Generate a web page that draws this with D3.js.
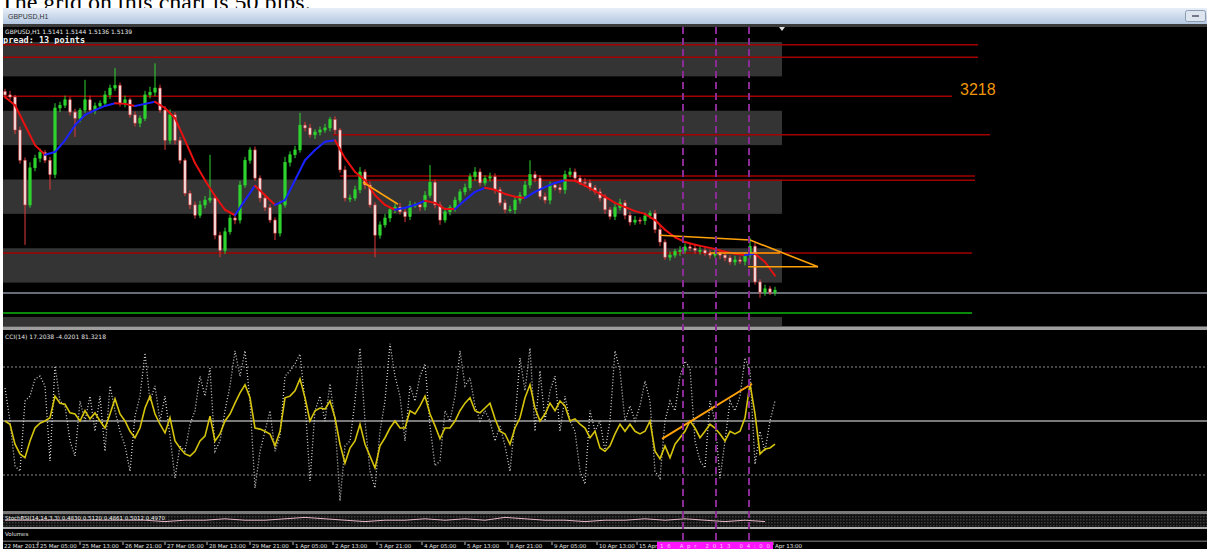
<!DOCTYPE html>
<html><head><meta charset="utf-8">
<script src="https://cdn.jsdelivr.net/npm/d3@7"></script>
<style>html,body{margin:0;padding:0;background:#fff;overflow:hidden}</style>
</head><body>
<svg id="c" width="1210" height="549"></svg>
<script>
// ---------------- DATA ----------------
const caption = "The grid on this chart is 50 pips.";
const windowTitle = "GBPUSD,H1";
const headerText = "GBPUSD,H1  1.5141 1.5144 1.5136 1.5139";
const spreadText = "Spread: 13 points";
const oscText = "CCI(14) 17.2038 -4.0201 81.3218";
const miniText = "StochRSI(14,14,3,3) 0.4830 0.5120 0.4861 0.5012 0.4970";
const volText = "Volumes";
const pipBase = 1.5000;          // prices stored as pips above this
const gridStep = 50;             // pips per grid band
const bandLows = [450, 350, 250, 150, 50];
const firstOpen = 428;
const closePips = [
423,420,372,328,263,317,331,339,328,307,
404,408,416,398,389,401,416,401,407,411,
423,433,437,411,416,394,382,389,423,427,
433,401,357,394,357,328,280,263,248,263,
270,273,219,197,224,244,241,292,328,343,
302,273,259,241,222,263,325,336,343,379,
375,365,369,372,375,387,372,314,273,273,
285,311,292,263,219,234,244,256,260,253,
246,263,263,260,277,296,263,241,253,259,
270,282,288,304,311,295,302,304,285,266,
256,256,270,277,292,307,302,275,270,292,
288,285,307,311,302,296,295,288,282,273,
256,246,259,266,248,238,241,240,247,251,
227,209,187,190,195,197,202,200,197,197,
193,190,193,190,186,180,183,181,190,203,
151,136,141,136,139];
const wickUp = [
4,6,3,5,4,8,5,6,4,5, 7,5,6,4,5,3,29,6,5,4, 6,5,25,4,6,3,5,4,6,8,
36,5,6,8,4,5,3,4,5,6, 6,63,4,5,6,5,7,6,5,4, 5,4,6,5,4,6,8,5,6,18,
5,6,4,5,6,4,5,3,6,5, 6,7,4,5,4,5,6,4,5,6, 5,6,4,5,6,25,4,5,6,4,
5,4,6,5,7,5,4,6,5,4, 5,6,4,5,6,21,5,4,6,5, 4,5,6,6,5,4,6,5,4,5,
6,4,5,6,4,5,6,4,5,4, 5,6,4,5,4,6,5,4,5,6, 4,5,6,4,5,4,6,5,4,12,
5,4,6,4,5];
const wickDown = [
5,4,6,5,58,4,5,6,4,22, 5,6,4,5,27,6,4,5,6,4, 5,6,4,5,6,4,5,6,4,5,
6,4,14,5,6,5,4,6,5,4, 5,4,6,10,5,4,6,5,4,5, 4,6,5,4,10,5,4,6,5,4,
5,4,6,5,4,5,6,4,5,6, 4,5,6,4,32,5,4,6,5,4, 8,5,4,6,5,4,5,7,4,5,
6,4,5,4,6,5,4,5,6,4, 5,4,6,5,4,5,6,4,5,6, 4,5,6,4,5,4,6,5,4,5,
6,4,5,4,6,5,4,5,6,4, 5,6,4,5,4,6,5,4,5,6, 4,5,4,6,5,4,5,4,6,5,
4,8,5,4,5];
// moving average, one value every 2 bars
const maPips = [
420,408,379,350,336,340,357,379,394,401,
407,411,410,407,410,413,404,389,357,324,
299,276,256,248,270,291,277,263,270,299,
328,343,355,357,331,311,299,277,263,256,
259,263,269,266,257,257,270,282,288,285,
279,275,273,282,289,295,299,298,291,283,
275,266,260,254,250,241,227,216,209,205,
202,199,195,192,190,192,180,160];
// support / resistance levels (pips), with bar index start / end
const levelPips  = [496, 478, 421, 365, 305, 299, 193];
const levelStart = [-0.4, -0.4, -0.4, 65.6, 67, 71.6, -0.4];
const levelEnd   = [194.6, 194.6, 189.4, 197, 194, 194, 193.4];
const levelLabel = "3218";
const grayLinePips = 135;
const greenLinePips = 106;
const greenLineEnd = 193.4;
// orange drawn trendlines [idx1, pips1, idx2, pips2]
const trendLines = [
  [71.6, 296, 78.6, 264],
  [131, 219, 149, 212],
  [149, 212, 162.6, 173],
  [162.6, 173, 148.6, 173],
  [141, 193, 155, 193]
];
const vLines = [135.6, 142.2, 148.8];
// oscillator
const oscLevels = [100, -100];
const yellowOsc = [
0,-6,-43,-61,-68,-37,-13,-4,0,6,
46,33,31,15,13,0,19,4,15,0,
-13,13,41,13,0,-19,-31,-13,24,46,
13,-6,-22,6,-37,-50,-61,-65,-56,-37,
-28,9,-37,-24,0,13,33,52,67,43,
-13,-15,-19,-24,-46,-19,43,46,56,78,
43,0,19,24,22,37,6,-43,-78,-50,
-37,-6,-43,-65,-87,-46,-31,-13,0,-13,
-13,19,13,28,46,13,-9,-33,-13,-13,
0,19,33,43,19,15,24,33,4,-19,
-24,-43,-13,6,43,67,24,0,13,33,
19,37,28,0,4,-6,-13,-31,-19,-50,
-56,-46,-24,-6,-19,-6,-19,-24,-19,0,
-56,-70,-46,-68,-43,-31,-19,0,-13,-31,
-19,-6,-13,-24,-37,-19,-24,-19,6,69,
13,-61,-52,-50,-43];
const whiteOsc = [
61,0,-83,-93,37,46,78,83,65,-74,
102,37,28,-37,-65,37,0,46,-19,46,
-56,65,19,-19,-46,-93,9,46,126,37,
65,0,46,-28,-106,-46,-56,-6,19,83,
46,98,-56,-37,19,65,130,83,130,37,
-124,-56,-19,19,-56,-28,83,93,106,124,
37,-111,19,46,0,69,0,-148,-46,-37,
37,135,0,-93,-124,-19,37,143,83,46,
-37,65,37,83,106,-9,-83,-74,19,0,
46,130,65,80,28,0,19,0,-37,-9,
-46,-93,0,117,56,135,-19,93,0,56,
83,-19,46,0,-19,-93,-117,19,-19,0,
-56,0,130,93,0,28,0,28,74,37,
-93,-106,0,37,19,83,111,98,-37,-74,
-87,37,0,-106,-37,37,19,46,117,93,
-80,-19,-56,0,37];
const oscTrend = [131.4, -33, 149.4, 69];
// mini indicator, one value every 4 bars
const miniVals = [2,2,2,2,2,2,2,2,1,2,2,3,2,2,3,4,3,2,1,2,2,3,2,3,2,4,3,2,2,1,2,2,3,2,3,2,1,2,1];
// time axis
const timeTicks = [6.6,15,23.6,32,40.4,49,57.6,65.6,74.4,83.4,92,100.6,109.4,118.4,126.4,153.6];
const timeLabels = ["25 Mar 05:00","25 Mar 13:00","26 Mar 21:00","27 Mar 05:00","28 Mar 13:00","29 Mar 21:00",
  "1 Apr 05:00","2 Apr 13:00","3 Apr 21:00","4 Apr 05:00","5 Apr 13:00","8 Apr 21:00","9 Apr 05:00",
  "10 Apr 13:00","15 Apr","Apr 13:00"];
const firstTimeLabel = "22 Mar 2013";
const crossLabel = "16 Apr 2013 04:00";

// ---------------- DRAW ----------------
const svg = d3.select("#c");
const defs = svg.append("defs");

// caption (cut by the window title bar)
defs.append("clipPath").attr("id", "ccap").append("rect").attr("x", 0).attr("y", 0).attr("width", 1210).attr("height", 8);
svg.append("text").attr("x", 0).attr("y", 10).attr("clip-path", "url(#ccap)")
  .attr("font-family", "Liberation Serif, 'Times New Roman', serif")
  .attr("font-size", 24).attr("fill", "#000").text(caption);

// title bar
const tg = defs.append("linearGradient").attr("id", "tb").attr("x1", 0).attr("y1", 0).attr("x2", 0).attr("y2", 1);
tg.append("stop").attr("offset", "0%").attr("stop-color", "#e8eff8");
tg.append("stop").attr("offset", "100%").attr("stop-color", "#b3c7e0");
svg.append("rect").attr("x", 3).attr("y", 8).attr("width", 1204).attr("height", 16).attr("fill", "url(#tb)");
svg.append("text").attr("x", 8).attr("y", 18.5).attr("font-family", "Liberation Sans, Arial, sans-serif")
  .attr("font-size", 7).attr("fill", "#333").text(windowTitle);
svg.append("rect").attr("x", 1185.5).attr("y", 10.5).attr("width", 20).attr("height", 11).attr("rx", 2)
  .attr("fill", "#dde6f0").attr("stroke", "#8a9bb0");
svg.append("rect").attr("x", 1192).attr("y", 15).attr("width", 7).attr("height", 2).attr("fill", "#778");

// window body
svg.append("rect").attr("x", 3).attr("y", 24).attr("width", 1204).attr("height", 525).attr("fill", "#000");
svg.append("rect").attr("x", 3).attr("y", 24).attr("width", 1204).attr("height", 3).attr("fill", "#3a3a3a");

// scales
const x = d3.scaleLinear().domain([0, 240]).range([5, 1205]);
const y = d3.scaleLinear().domain([100, 500]).range([317, 42]);
const yo = d3.scaleLinear().domain([-100, 100]).range([475, 367]);
const bandEndIdx = closePips.length + 0.4;

// clips
defs.append("clipPath").attr("id", "cm").append("rect").attr("x", 3).attr("y", 27).attr("width", 1204).attr("height", 299);
defs.append("clipPath").attr("id", "co").append("rect").attr("x", 3).attr("y", 330).attr("width", 1204).attr("height", 181);

const main = svg.append("g").attr("clip-path", "url(#cm)");

// grid bands
main.selectAll("rect.band").data(bandLows).join("rect").attr("class", "band")
  .attr("x", x(-0.4)).attr("width", x(bandEndIdx) - x(-0.4))
  .attr("y", d => y(d + gridStep)).attr("height", d => y(d) - y(d + gridStep))
  .attr("fill", "#343434");

// header texts
main.append("text").attr("x", 5).attr("y", 34).attr("font-family", "DejaVu Sans, sans-serif")
  .attr("font-size", 6).attr("fill", "#e8e8e8").text(headerText);
main.append("text").attr("x", -2).attr("y", 42.5).attr("font-family", "DejaVu Sans Mono, monospace")
  .attr("font-weight", "bold").attr("font-size", 8.5).attr("fill", "#f0f0f0").text(spreadText);

// level lines
levelPips.forEach((p, k) => {
  main.append("line").attr("x1", x(levelStart[k])).attr("x2", x(levelEnd[k]))
    .attr("y1", y(p)).attr("y2", y(p)).attr("stroke", "#a30000").attr("stroke-width", 1.5);
});
main.append("text").attr("x", x(levelEnd[2]) + 8).attr("y", y(levelPips[2]) - 1)
  .attr("font-family", "Liberation Sans, Arial, sans-serif").attr("font-size", 16)
  .attr("fill", "#f0960a").text(levelLabel);
main.append("line").attr("x1", 3).attr("x2", 1207).attr("y1", y(grayLinePips)).attr("y2", y(grayLinePips))
  .attr("stroke", "#8a909e").attr("stroke-width", 1.5);
main.append("line").attr("x1", x(-0.4)).attr("x2", x(greenLineEnd)).attr("y1", y(greenLinePips)).attr("y2", y(greenLinePips))
  .attr("stroke", "#0a8a0a").attr("stroke-width", 2);

// candles
const bars = closePips.map((c, i) => {
  const o = i === 0 ? firstOpen : closePips[i - 1];
  return { i, o, c, h: Math.max(o, c) + wickUp[i], l: Math.min(o, c) - wickDown[i] };
});
const cg = main.append("g");
cg.selectAll("line").data(bars).join("line")
  .attr("x1", d => x(d.i)).attr("x2", d => x(d.i))
  .attr("y1", d => y(d.h)).attr("y2", d => y(d.l))
  .attr("stroke", d => d.c >= d.o ? "#2ed42e" : "#e03a3a").attr("stroke-width", 1);
cg.selectAll("rect").data(bars).join("rect")
  .attr("x", d => x(d.i) - 1.2).attr("width", 2.4)
  .attr("y", d => y(Math.max(d.o, d.c)))
  .attr("height", d => Math.max(1, Math.abs(y(d.o) - y(d.c))))
  .attr("fill", d => d.c >= d.o ? "#2ed42e" : "#f2e4e4")
  .attr("stroke", d => d.c >= d.o ? "#2ed42e" : "#e04848").attr("stroke-width", 0.6);

// moving average (blue rising, red falling)
const maG = main.append("g");
for (let k = 0; k < maPips.length - 1; k++) {
  maG.append("line").attr("x1", x(2 * k)).attr("x2", x(2 * k + 2))
    .attr("y1", y(maPips[k])).attr("y2", y(maPips[k + 1]))
    .attr("stroke", maPips[k + 1] > maPips[k] ? "#1a22ff" : "#e81010")
    .attr("stroke-width", 2).attr("stroke-linecap", "round");
}

// orange trendlines
main.selectAll("line.tl").data(trendLines).join("line").attr("class", "tl")
  .attr("x1", d => x(d[0])).attr("y1", d => y(d[1])).attr("x2", d => x(d[2])).attr("y2", d => y(d[3]))
  .attr("stroke", "#ffa10a").attr("stroke-width", 1.6);

// data-end marker
main.append("path").attr("d", `M${x(bandEndIdx) - 3},27 L${x(bandEndIdx) + 3},27 L${x(bandEndIdx)},31 Z`).attr("fill", "#ddd");

// panel separators
svg.append("rect").attr("x", 3).attr("y", 326).attr("width", 1204).attr("height", 4).attr("fill", "#9e9e9e");
svg.append("rect").attr("x", 3).attr("y", 326).attr("width", 1204).attr("height", 1).attr("fill", "#555");

// oscillator panel
const osc = svg.append("g").attr("clip-path", "url(#co)");
osc.append("text").attr("x", 5).attr("y", 338.5).attr("font-family", "DejaVu Sans, sans-serif")
  .attr("font-size", 6).attr("fill", "#e0e0e0").text(oscText);
oscLevels.forEach(v => {
  osc.append("line").attr("x1", 3).attr("x2", 1207).attr("y1", yo(v)).attr("y2", yo(v))
    .attr("stroke", "#8a8a8a").attr("stroke-width", 1).attr("stroke-dasharray", "2,2");
});
osc.append("line").attr("x1", 3).attr("x2", 1207).attr("y1", yo(0)).attr("y2", yo(0))
  .attr("stroke", "#7a7a7a").attr("stroke-width", 2);
const lineOsc = d3.line().x((d, i) => x(i)).y(d => yo(d));
osc.append("path").attr("d", lineOsc(whiteOsc)).attr("fill", "none")
  .attr("stroke", "#cfcfcf").attr("stroke-width", 1.3).attr("stroke-dasharray", "1,2");
osc.append("path").attr("d", lineOsc(yellowOsc)).attr("fill", "none")
  .attr("stroke", "#d6c40c").attr("stroke-width", 1.6);
osc.append("line").attr("x1", x(oscTrend[0])).attr("y1", yo(oscTrend[1]))
  .attr("x2", x(oscTrend[2])).attr("y2", yo(oscTrend[3]))
  .attr("stroke", "#ffa10a").attr("stroke-width", 2);

// mini panel
const pat = defs.append("pattern").attr("id", "dots").attr("width", 3).attr("height", 3).attr("patternUnits", "userSpaceOnUse");
pat.append("rect").attr("width", 3).attr("height", 3).attr("fill", "#111");
pat.append("rect").attr("width", 1.5).attr("height", 1.5).attr("fill", "#3c3c3c");
svg.append("rect").attr("x", 3).attr("y", 511).attr("width", 1204).attr("height", 3).attr("fill", "#7a7a7a");
svg.append("rect").attr("x", 3).attr("y", 514).attr("width", 1204).attr("height", 13).attr("fill", "url(#dots)");
const ym = d3.scaleLinear().domain([0, 5]).range([523, 516]);
svg.append("path").attr("d", d3.line().x((d, i) => x(4 * i)).y(d => ym(d))(miniVals))
  .attr("fill", "none").attr("stroke", "#e8b8c8").attr("stroke-width", 1);
svg.append("text").attr("x", 5).attr("y", 519.5).attr("font-family", "DejaVu Sans, sans-serif")
  .attr("font-size", 5.5).attr("fill", "#f0f0f0").text(miniText);
svg.append("rect").attr("x", 3).attr("y", 527).attr("width", 1204).attr("height", 2).attr("fill", "#b0b0b0");
svg.append("text").attr("x", 5).attr("y", 535.5).attr("font-family", "DejaVu Sans, sans-serif")
  .attr("font-size", 5.5).attr("fill", "#e0e0e0").text(volText);
svg.append("rect").attr("x", 3).attr("y", 540.5).attr("width", 1204).attr("height", 1.5).attr("fill", "#5a5a5a");

// vertical dashed period separators
svg.selectAll("line.vl").data(vLines).join("line").attr("class", "vl")
  .attr("x1", d => x(d)).attr("x2", d => x(d)).attr("y1", 27).attr("y2", 541)
  .attr("stroke", "#8a2a94").attr("stroke-width", 2).attr("stroke-dasharray", "7,4");

// time axis
const ax = svg.append("g");
ax.append("text").attr("x", 4).attr("y", 548).attr("font-family", "DejaVu Sans, sans-serif")
  .attr("font-size", 5.5).attr("fill", "#e0e0e0").text(firstTimeLabel);
timeTicks.forEach((t, k) => {
  ax.append("line").attr("x1", x(t)).attr("x2", x(t)).attr("y1", 542).attr("y2", 545)
    .attr("stroke", "#bbb").attr("stroke-width", 1);
  ax.append("text").attr("x", x(t) + 2).attr("y", 548).attr("font-family", "DejaVu Sans, sans-serif")
    .attr("font-size", 5.5).attr("fill", "#e0e0e0").text(timeLabels[k]);
});
svg.append("rect").attr("x", x(130.4)).attr("y", 542).attr("width", x(153.6) - x(130.4)).attr("height", 7).attr("fill", "#ff14ff");
svg.append("text").attr("x", x(131)).attr("y", 548).attr("font-family", "DejaVu Sans, sans-serif")
  .attr("font-size", 5.5).attr("fill", "#ffc8ff").attr("textLength", x(153) - x(131)).text(crossLabel);
// white frame edge on the right
svg.append("rect").attr("x", 1207).attr("y", 8).attr("width", 3).attr("height", 541).attr("fill", "#fff");
</script>
</body></html>
